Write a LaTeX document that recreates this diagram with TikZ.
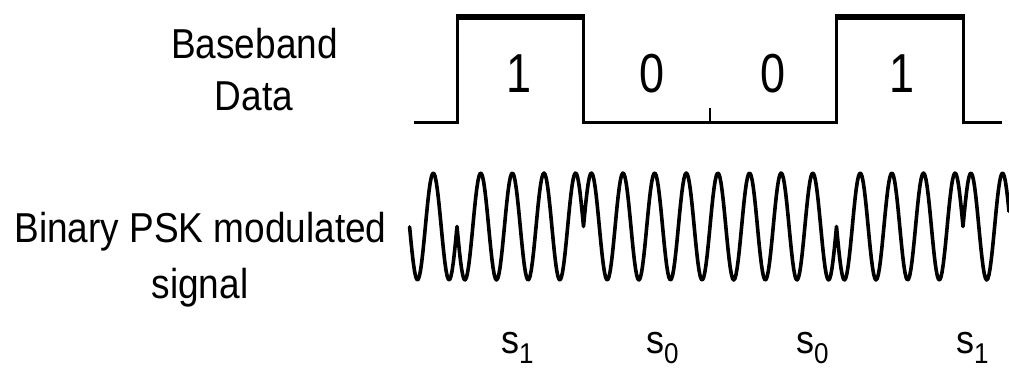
\documentclass[tikz,border=0pt]{standalone}
\usepackage{fontspec}
\setmainfont{Liberation Sans}
\usepackage{graphicx}
\newcommand{\vstretch}[2]{\scalebox{1}[#1]{#2}}
\newcommand{\symsub}[1]{\raisebox{-9.5pt}{\fontsize{26}{30}\selectfont #1}}
\begin{document}
\begin{tikzpicture}[x=1pt,y=-1pt,
  lbl/.style={inner sep=0pt, anchor=base, font=\fontsize{37}{40}\selectfont},
  bitlbl/.style={inner sep=0pt, anchor=base, font=\fontsize{45}{48}\selectfont},
  sym/.style={inner sep=0pt, anchor=base west, font=\fontsize{36}{40}\selectfont},
  wave/.style={line width=3.6pt, line join=round, line cap=round},
  baseline/.style={line width=3pt, line join=miter},
  highline/.style={line width=6pt},
  tickline/.style={line width=2.5pt}]
\useasboundingbox (0,0) rectangle (1009,370);

% baseband data waveform
\coordinate (b0) at (414,122.5);
\coordinate (r1) at (457,122.5);
\coordinate (r1t) at (457,16.5);
\coordinate (f1t) at (583.5,16.5);
\coordinate (f1) at (583.5,122.5);
\coordinate (r2) at (836.5,122.5);
\coordinate (r2t) at (836.5,16.5);
\coordinate (f2t) at (963.5,16.5);
\coordinate (f2) at (963.5,122.5);
\coordinate (b1) at (1002,122.5);
\draw[baseline] (b0) -- (r1) -- (r1t) -- (f1t) -- (f1) -- (r2) -- (r2t) -- (f2t) -- (f2) -- (b1);
\draw[highline] ([xshift=-1.5pt]r1t) -- ([xshift=1.5pt]f1t);
\draw[highline] ([xshift=-1.5pt]r2t) -- ([xshift=1.5pt]f2t);
\coordinate (tk0) at (710,122.5);
\coordinate (tk1) at (710,108);
\draw[tickline] (tk0) -- (tk1);

% BPSK modulated signal (carrier period 31.625 px, 360/31.625 = 11.3834)
\draw[wave]
  plot[domain=409.6:457, samples=40] (\x,{226.5-53.5*sin(11.3834*(\x-457))})
  -- plot[domain=457:583.5, samples=110] (\x,{226.5+53.5*sin(11.3834*(\x-457))})
  -- plot[domain=583.5:836.5, samples=220] (\x,{226.5-53.5*sin(11.3834*(\x-457))})
  -- plot[domain=836.5:963, samples=110] (\x,{226.5+53.5*sin(11.3834*(\x-457))})
  -- plot[domain=963:1009, samples=40] (\x,{226.5-53.5*sin(11.3834*(\x-457))});

% labels
\node[lbl] (bb) at (254.5,58) {\vstretch{1.13}{Baseband}};
\node[lbl] (dt) at (254,110) {\vstretch{1.13}{Data}};
\node[lbl] (bp) at (200.5,242) {\vstretch{1.13}{Binary PSK modulated}};
\node[lbl] (sg) at (200,298) {\vstretch{1.13}{signal}};

\node[bitlbl] (d1) at (519,92) {\vstretch{1.22}{1}};
\node[bitlbl] (d2) at (652,92) {\vstretch{1.22}{0}};
\node[bitlbl] (d3) at (773,92) {\vstretch{1.22}{0}};
\node[bitlbl] (d4) at (902,92) {\vstretch{1.22}{1}};

\node[sym] (s1a) at (501,353) {\vstretch{1.1}{s\symsub{1}}};
\node[sym] (s0a) at (646,353) {\vstretch{1.1}{s\symsub{0}}};
\node[sym] (s0b) at (796,353) {\vstretch{1.1}{s\symsub{0}}};
\node[sym] (s1b) at (956,353) {\vstretch{1.1}{s\symsub{1}}};
\end{tikzpicture}
\end{document}
